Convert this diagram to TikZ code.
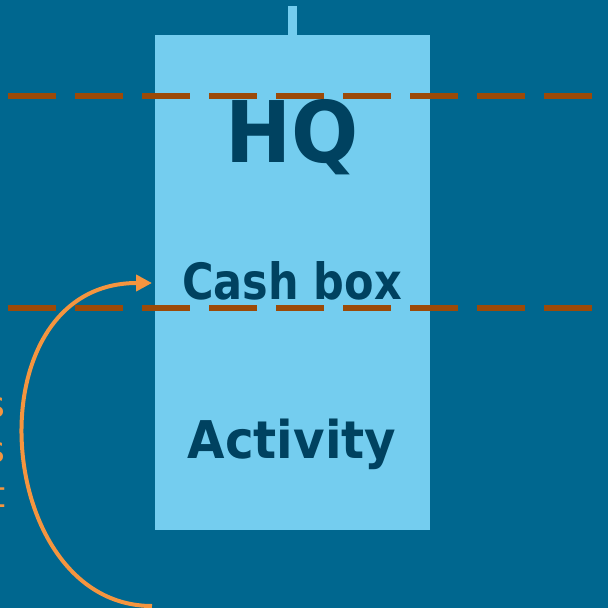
\documentclass[tikz,border=0pt]{standalone}
\usepackage{fontspec}
\usetikzlibrary{arrows.meta}
\setmainfont{DejaVu Sans}
\newfontfamily\labelfont[FakeStretch=0.86]{DejaVu Sans Bold}
\newfontfamily\widelabelfont[FakeStretch=0.93]{DejaVu Sans Bold}
\definecolor{bgblue}{HTML}{00678F}
\definecolor{boxblue}{HTML}{74CDEF}
\definecolor{inkblue}{HTML}{004260}
\definecolor{rust}{HTML}{9C4A08}
\definecolor{flow}{HTML}{F5953F}
\tikzset{
  boxlabel/.style={inner sep=0pt, anchor=base, text=inkblue},
  levelline/.style={rust, line width=6pt, dash pattern=on 48pt off 19pt},
  flowarrow/.style={flow, line width=4pt, -{Triangle[length=16pt,width=16pt]}},
  sidelabel/.style={inner sep=0pt, anchor=base east, text=flow, font=\fontsize{36pt}{36pt}\selectfont}
}
\begin{document}
\begin{tikzpicture}[x=1pt,y=-1pt]
  % canvas
  \fill[bgblue] (0,0) rectangle (608,608);
  \useasboundingbox (0,0) rectangle (608,608);

  % the organisation box and its link upward
  \fill[boxblue] (155,35) rectangle (430,530);
  \fill[boxblue] (288,6) rectangle (296.5,36);

  % level labels
  \node[boxlabel, font=\widelabelfont\fontsize{85pt}{85pt}\selectfont] (hq) at (292,162) {HQ};
  \node[boxlabel, font=\labelfont\fontsize{50pt}{50pt}\selectfont] (cash) at (292,299) {Cash box};
  \node[boxlabel, font=\widelabelfont\fontsize{52pt}{52pt}\selectfont] (act) at (292,458) {Activity};

  % level boundaries
  \coordinate (l1a) at (8,96);  \coordinate (l1b) at (608,96);
  \coordinate (l2a) at (8,308); \coordinate (l2b) at (608,308);
  \draw[levelline] (l1a) -- (l1b);
  \draw[levelline] (l2a) -- (l2b);

  % side text running off the left edge
  \begin{scope}
    \clip (0,0) rectangle (608,608);
    \node[sidelabel] (s1) at (5,417) {s};
    \node[sidelabel] (s2) at (5,462) {s};
    \node[sidelabel] (s3) at (5.5,507) {t};
  \end{scope}

  % flow returning up to the cash box
  \coordinate (fstart) at (152,606);
  \coordinate (fend) at (152,283);
  \draw[flowarrow] (fstart) .. controls (-8,606) and (-30,283) .. (fend);
\end{tikzpicture}
\end{document}
